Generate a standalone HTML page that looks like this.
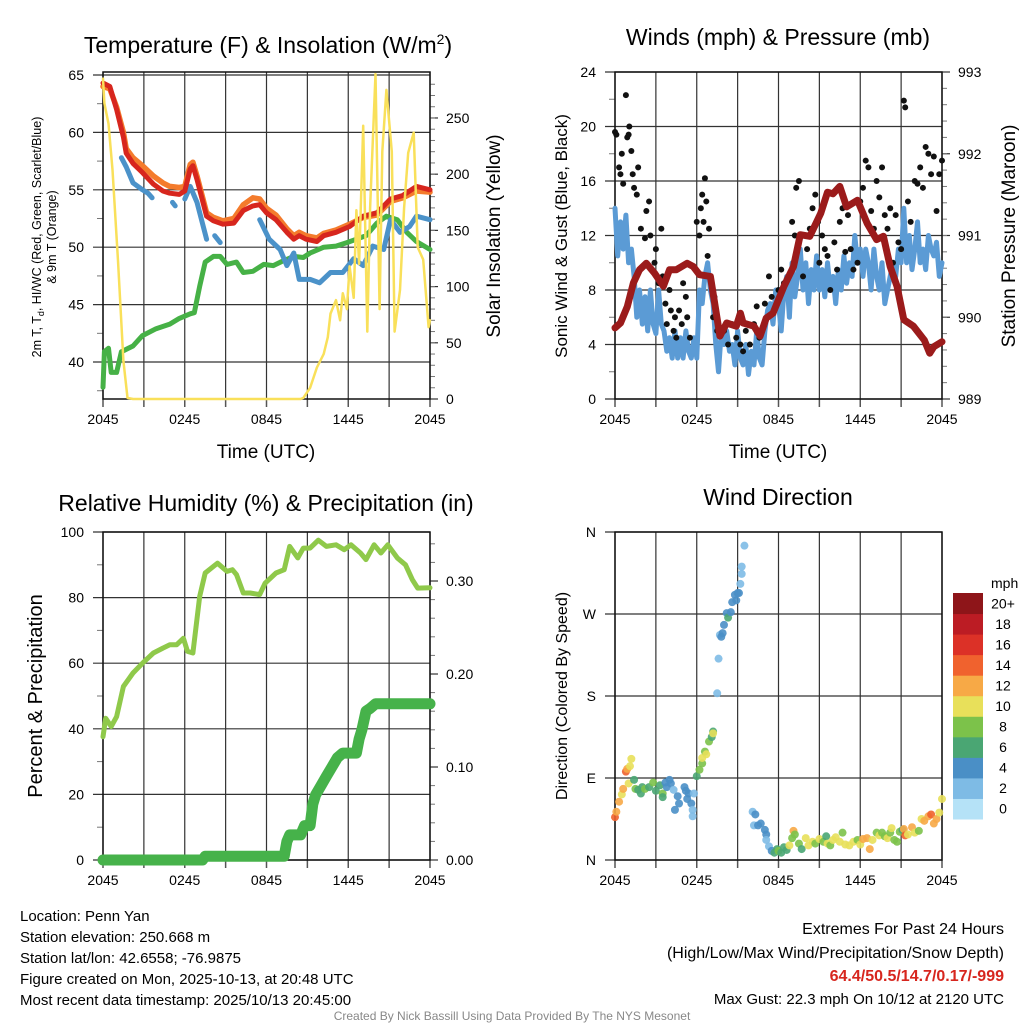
<!DOCTYPE html>
<html><head><meta charset="utf-8"><style>
body{margin:0;background:#fff;width:1024px;height:1024px;overflow:hidden;font-family:"Liberation Sans",sans-serif}
svg{display:block}
</style></head><body>
<svg id="chart" width="1024" height="1024" viewBox="0 0 1024 1024" xmlns="http://www.w3.org/2000/svg" font-family="Liberation Sans, sans-serif">
<g id="layer"></g>
<text x="268" y="53" font-size="23" text-anchor="middle">Temperature (F) &amp; Insolation (W/m<tspan font-size="14" dy="-9">2</tspan><tspan dy="9">)</tspan></text>
<text x="778" y="45" font-size="23" text-anchor="middle">Winds (mph) &amp; Pressure (mb)</text>
<text x="266" y="511" font-size="23" text-anchor="middle">Relative Humidity (%) &amp; Precipitation (in)</text>
<text x="778" y="505" font-size="23" text-anchor="middle">Wind Direction</text>
<text x="266" y="458" font-size="19" text-anchor="middle">Time (UTC)</text>
<text x="778" y="458" font-size="19" text-anchor="middle">Time (UTC)</text>
<text transform="translate(41,237) rotate(-90)" font-size="12.5" text-anchor="middle">2m T, T<tspan font-size="9" dy="3">d</tspan><tspan dy="-3">, HI/WC (Red, Green, Scarlet/Blue)</tspan></text>
<text transform="translate(56,237) rotate(-90)" font-size="12.5" text-anchor="middle">&amp; 9m T (Orange)</text>
<text transform="translate(500,236) rotate(-90)" font-size="19" text-anchor="middle">Solar Insolation (Yellow)</text>
<text transform="translate(567,236) rotate(-90)" font-size="17" text-anchor="middle">Sonic Wind &amp; Gust (Blue, Black)</text>
<text transform="translate(1015,236) rotate(-90)" font-size="19" text-anchor="middle">Station Pressure (Maroon)</text>
<text transform="translate(42,696) rotate(-90)" font-size="20" text-anchor="middle">Percent &amp; Precipitation</text>
<text transform="translate(567,696) rotate(-90)" font-size="16" text-anchor="middle">Direction (Colored By Speed)</text>
<g font-size="15">
<text x="20" y="921">Location: Penn Yan</text>
<text x="20" y="942">Station elevation: 250.668 m</text>
<text x="20" y="963">Station lat/lon: 42.6558; -76.9875</text>
<text x="20" y="984">Figure created on Mon, 2025-10-13, at 20:48 UTC</text>
<text x="20" y="1005">Most recent data timestamp: 2025/10/13 20:45:00</text>
</g>
<g font-size="16" text-anchor="end">
<text x="1004" y="934">Extremes For Past 24 Hours</text>
<text x="1004" y="958">(High/Low/Max Wind/Precipitation/Snow Depth)</text>
<text x="1004" y="981" fill="#d7261e" font-weight="bold">64.4/50.5/14.7/0.17/-999</text>
<text x="1004" y="1004" font-size="15">Max Gust: 22.3 mph On 10/12 at 2120 UTC</text>
</g>
<text x="512" y="1020" font-size="12" fill="#888" text-anchor="middle">Created By Nick Bassill Using Data Provided By The NYS Mesonet</text>
</svg>
<script>
// ---- data ----
const xTickLabels=["2045","0245","0845","1445","2045"];
const xTickHours=[0,6,12,18,24];
const tempLeftTicks=[40,45,50,55,60,65];
const insolTicks=[0,50,100,150,200,250];
const windTicks=[0,4,8,12,16,20,24];
const presTicks=[989,990,991,992,993];
const rhTicks=[0,20,40,60,80,100];
const precipTicks=[0,0.1,0.2,0.3];
const precipTickLabels=["0.00","0.10","0.20","0.30"];
const dirTicks=[0,90,180,270,360];
const dirTickLabels=["N","E","S","W","N"];
const speedBins=[0,2,4,6,8,10,12,14,16,18,20];
const speedLabels=["0","2","4","6","8","10","12","14","16","18","20+"];
const speedColors=["#b5e2f7","#7ebbe5","#4a8fc6","#4aa673","#7cc24a","#e8e05a","#f7a946","#f0622e","#dc3127","#bc1c24","#8e1519"];

const tempHours=[0,0.5,1,1.5,1.7,2.2,2.9,3.7,4.4,4.9,5.6,6,6.4,6.6,6.9,7.6,8.1,8.8,9.6,10.3,11,11.5,12,12.7,13.5,14,14.4,14.9,15.7,16.2,17.1,18.1,19.1,20.1,21.1,22,23,24];
const tempVals=[64.3,64,62,59.6,58.2,57.3,56.5,55.5,54.9,54.7,54.6,54.9,56.8,57.1,55.9,52.7,52.3,52,52.1,53.2,53.6,53.7,53,52.4,51.3,50.7,51,50.7,50.5,51,51.3,51.8,52.7,53,54.2,54.5,55.3,55];
const temp9Vals=[64,63.8,62.2,60,58.6,57.8,57.1,56.2,55.6,55.3,55.2,55.3,57.2,57.4,56.2,53,52.6,52.3,52.5,53.7,54.3,54.2,53.4,52.8,51.6,51,51.3,51,50.8,51.2,51.5,52,52.6,52.8,54,54.3,54.9,54.8];
const hiHours=[1.35,1.7,2.2,2.9,3.3,3.6,3.8,5.0,5.1,5.3,5.6,6.0,6.4,6.9,7.6,7.7,8.2,8.6,9,11.5,12.2,13,13.5,14,14.4,15.2,15.9,16.7,17.6,18.4,19.1,19.8,20.6,21.1,21.8,22.5,23,24];
const hiVals=[57.8,57,55.6,55,54.7,54.3,null,null,53.9,53.6,null,54.2,55.3,53.9,50.7,null,51,50.4,null,52.4,50.7,49.8,48.4,49.5,47.2,47.2,46.9,47.8,47.8,49,48.4,50.1,49.8,52.4,51.3,51.8,52.7,52.4];
const dewHours=[0,0.1,0.4,0.6,1,1.35,2.2,2.9,3.9,4.9,5.6,6.4,6.7,7.1,7.5,8.1,8.6,9.1,9.8,10.3,11,11.8,12.5,13.2,14,14.7,15.2,16.2,17.1,17.9,18.6,19.3,20.1,20.8,21.6,22.3,23,24];
const dewVals=[37.8,40.9,41.2,39.1,39.1,40.9,41.4,42.3,42.9,43.3,43.8,44.2,44.3,46.6,48.7,49.2,49.2,48.5,48.7,47.8,47.9,48.5,48.4,48.8,49.2,49.1,49.5,50,50.1,50.4,50.7,51,52.1,52.7,52.4,51.3,50.5,49.8];
const solHours=[0,0.1,0.4,0.7,1.1,1.5,1.8,2.2,14.5,14.7,15.2,15.7,16.2,16.5,16.7,17.1,17.4,17.6,17.9,18.1,18.4,18.6,18.8,19.1,19.4,19.6,20,20.3,20.5,20.8,21.2,21.4,21.8,22.1,22.4,22.8,23.1,23.5,23.9,24];
const solVals=[285,263,245,204,123,34,1,0,0,1,10,28,40,55,76,88,70,94,80,118,90,168,120,243,60,170,289,80,220,275,220,60,97,170,219,237,135,124,64,70];

const windHours=[0,0.2,0.4,0.6,0.8,1,1.2,1.4,1.6,1.8,2,2.2,2.4,2.6,2.8,3,3.2,3.4,3.6,3.8,4,4.2,4.4,4.6,4.8,5,5.2,5.4,5.6,5.8,6,6.2,6.4,6.6,6.8,7,7.2,7.4,7.6,7.8,8,8.2,8.4,8.6,8.8,9,9.2,9.4,9.6,9.8,10,10.2,10.4,10.6,10.8,11,11.2,11.4,11.6,11.8,12,12.2,12.4,12.6,12.8,13,13.2,13.4,13.6,13.8,14,14.2,14.4,14.6,14.8,15,15.2,15.4,15.6,15.8,16,16.2,16.4,16.6,16.8,17,17.2,17.4,17.6,17.8,18,18.2,18.4,18.6,18.8,19,19.2,19.4,19.6,19.8,20,20.2,20.4,20.6,20.8,21,21.2,21.4,21.6,21.8,22,22.2,22.4,22.6,22.8,23,23.2,23.4,23.6,23.8,24];
const windVals=[14,10.5,13,11,13.5,10,11,9,6,8,5.5,7.5,5,8,5.5,4.8,8,5.5,5,3.5,4.5,3,5,3,4.5,3,5,3.5,3,4.5,3,8,7,9,10,8,7,4,2,5,4,5,3.5,4,2.5,5,3,2.5,4,1.8,3.5,2.5,5,3,2.5,5,6.5,7,5.5,8,7,5,8,9,6,10,7.5,9,11,8,10,7,9.5,8,10.5,8,9.5,7.5,10,8,9,7,9.5,8,10.5,8.5,10,9,12,10,11,9,11,10,8,11,9,8,10,7,8,9,10,9,11,10,14,10,12,9.5,11,13,10,11,9.5,12,11,10.5,11.5,9,10];
const gustHours=[0,0.1,0.3,0.4,0.5,0.6,0.8,0.9,1,1.05,1.2,1.3,1.4,1.6,1.7,1.9,2.2,2.3,2.5,2.6,2.7,2.9,3,3.2,3.4,3.5,3.7,3.8,4,4.1,4.3,4.4,4.5,4.7,4.9,5,5.2,5.3,5.5,6,6.2,6.3,6.4,6.5,6.6,6.7,6.8,6.9,7,7.2,7.3,7.5,8,8.3,8.6,8.9,9.2,9.4,9.6,9.9,10.2,10.4,10.6,11,11.3,11.5,12,12.2,12.4,13,13.2,13.3,13.5,13.8,14.1,14.3,14.5,14.7,14.9,15,15.2,15.4,15.6,15.8,16.1,16.3,16.5,16.7,16.9,17.1,17.3,17.5,17.8,18,18.2,18.4,18.6,18.8,19,19.2,19.4,19.6,19.8,20,20.2,20.4,20.6,20.8,21,21.2,21.3,21.5,21.7,22,22.2,22.4,22.6,22.8,23,23.2,23.4,23.6,23.8,24];
const gustVals=[19.6,19.4,17,16.5,18,15.8,22.3,19.2,19.4,20,18.2,16.5,15.5,15,17,12.5,11.8,13.8,14.5,12,9.5,10,11,8.5,12.5,9,7,5.5,8,6.5,5,6,4.5,6.5,5.5,8.5,7.5,6,4.5,13,12,14,15,13,16.2,14.5,10.5,12.5,9,6,7.5,5,5,4,5.5,4.5,4,3.5,5,4,5.5,6.8,4.5,7,9,7.5,8,9.5,8.5,13,12,15.5,16,9,11,12.5,14,15,13,10,12,11,10.5,8,11.5,9.5,13,14,10.8,13.5,11,9.5,10,14.5,15.5,17.5,17,13.8,12.5,16,14.8,17,13.5,12.5,14,10,13.5,11.5,11,21.9,21.4,14.5,13,16,15.8,17,15.5,18.5,18,16.5,17.8,13.8,16.5,17.5];
const presHours=[0,0.4,0.9,1.35,1.8,2.3,2.9,3.55,4,4.5,5.3,5.75,6.2,7,7.7,8.2,8.9,9.2,9.4,10.2,10.65,11.1,11.6,12.4,13.1,13.6,14.3,15.1,15.6,16,16.5,17,17.8,18.5,19.2,19.7,20.2,20.7,21.2,21.9,22.7,23.1,23.4,24];
const presVals=[989.87,989.93,990.13,990.42,990.58,990.66,990.54,990.38,990.58,990.58,990.66,990.62,990.52,990.5,989.77,989.93,989.89,990.05,989.93,989.89,989.77,989.99,990.05,990.38,990.62,991.01,990.99,991.27,991.53,991.51,991.6,991.35,991.43,991.15,990.95,990.99,990.62,990.38,989.97,989.89,989.72,989.56,989.64,989.7];

const rhHours=[0,0.2,0.6,1,1.5,2.2,2.9,3.7,4.4,4.9,5.4,5.9,6.2,6.6,7.1,7.5,8.1,8.4,9.1,9.5,9.8,10.3,10.8,11.5,11.9,12.7,13.3,13.7,14.3,14.7,15.2,15.8,16.4,17.1,17.7,18.2,18.9,19.3,19.9,20.4,20.9,21.6,22.2,22.7,23.1,24];
const rhVals=[37.6,43.2,40.7,43.7,52.9,57,60,63.1,64.6,65.6,65.6,67.6,63.6,63.1,80.4,87.5,89.5,90.5,88,88.5,87,81.4,81.4,80.9,84.4,87.5,88.5,95.6,92.1,95.1,95.1,97.5,95.6,96.1,94.6,96.1,93.6,91.6,96.1,93.6,96.1,92.1,90,85.5,82.9,83];
const precipHours=[0,7.3,7.5,13.3,13.5,13.7,14.5,14.8,15.2,15.4,15.6,16,16.4,16.8,17.2,17.6,18.6,18.8,19,19.3,19.6,20,24];
const precipVals=[0,0,0.004,0.004,0.02,0.027,0.027,0.037,0.037,0.06,0.07,0.08,0.09,0.1,0.11,0.115,0.115,0.13,0.14,0.16,0.163,0.168,0.168];

const dirHours=[0,0.1,0.3,0.5,0.6,0.8,0.9,1,1.1,1.2,1.4,1.5,1.7,1.9,2,2.2,2.5,2.8,3,3.3,3.5,3.5,3.7,3.8,4,4.1,4.3,4.4,4.6,4.7,5.1,5.2,5.3,5.4,5.6,5.7,5.7,5.8,6,6.2,6.4,6.4,6.6,6.7,6.9,7.1,7.2,7.2,7.5,7.6,7.7,7.8,7.9,8,8.2,8.3,8.5,8.6,8.8,8.9,9,9.1,9.2,9.3,9.3,9.5,10.1,10.3,10.2,10.5,10.7,11,11.1,11.1,11.3,11.5,11.7,11.9,12,12.2,12.4,12.6,12.8,13,13.1,13.2,13.5,13.7,14,14.2,14.5,14.7,15,15.3,15.5,15.6,15.8,16,16.2,16.5,16.7,16.9,17.2,17.5,17.8,18,18.2,18.5,18.7,18.9,19.2,19.4,19.6,19.8,20,20.2,20.3,20.5,20.7,20.9,21.1,21.2,21.3,21.5,21.8,22,22.3,22.5,22.7,23,23.2,23.4,23.6,23.8,24];
const dirVals=[47,53,64,72,78,97,100,84,103,111,88,78,77,73,80,78,80,85,76,82,73,69,85,80,88,84,77,55,70,62,80,76,67,73,62,55,48,73,92,99,106,112,119,116,130,135,141,139,183,221,247,245,249,258,271,266,272,283,291,285,293,293,303,314,322,345,53,50,38,38,40,33,28,22,15,10,8,12,10,8,14,11,16,24,32,28,18,12,24,16,20,18,23,20,26,18,16,22,25,20,30,17,16,20,22,17,23,24,12,22,30,27,30,26,24,30,35,22,20,31,33,34,27,28,36,30,32,45,43,48,50,40,45,52,67];
const dirSpeeds=[14,12,12,11,12,14,12,10,10,10,6,8,7,6,7,8,6,8,7,6,8,6,5,4,4,4,3,4,4,4,4,4,4,4,4,3,2,3,6,8,8,10,8,10,8,6,7,10,2,2,2,4,4,4,4,6,4,4,4,4,4,4,2,2,2,2,2,4,2,4,4,4,4,2,2,4,6,6,8,6,6,7,10,8,12,8,8,6,10,10,10,9,10,8,6,10,8,10,10,10,8,10,10,11,8,10,12,12,12,10,8,10,8,8,10,8,10,8,8,8,7,12,14,10,12,10,9,10,12,12,14,12,12,10,10];

// ---- drawing ----
const NS="http://www.w3.org/2000/svg";
const layer=document.getElementById('layer');
function mk(tag,attrs,parent){const e=document.createElementNS(NS,tag);for(const k in attrs)e.setAttribute(k,attrs[k]);(parent||layer).appendChild(e);return e;}
function lin(d0,d1,r0,r1){return v=>r0+(v-d0)/(d1-d0)*(r1-r0);}

const panels={
 temp:{x0:103,x1:430,y0:72,y1:399},
 wind:{x0:615,x1:942,y0:72,y1:399},
 rh:{x0:103,x1:430,y0:532,y1:860},
 dir:{x0:615,x1:942,y0:532,y1:860}
};
function frame(p,name,leftTicks,leftLab,ly,leftMinor,rightTicks,rightLab,ry,rightMinor,showX){
  const g=mk('g',{});
  
  
  const x=lin(0,24,p.x0,p.x1);
  for(let h=0;h<=24;h+=3){mk('line',{x1:x(h),x2:x(h),y1:p.y0,y2:p.y1,stroke:'#333','stroke-width':1.2},g);
    mk('line',{x1:x(h),x2:x(h),y1:p.y1,y2:p.y1+8,stroke:'#555','stroke-width':1.5},g);}
  leftTicks.forEach((v,i)=>{const yy=ly(v);
    mk('line',{x1:p.x0-10,x2:p.x1,y1:yy,y2:yy,stroke:'#333','stroke-width':1.2},g);
    const t=mk('text',{x:p.x0-19,y:yy+5,'font-size':14,'text-anchor':'end'},g);t.textContent=leftLab[i];});
  leftMinor.forEach(v=>{const yy=ly(v);mk('line',{x1:p.x0-6,x2:p.x0,y1:yy,y2:yy,stroke:'#777','stroke-width':1},g);});
  if(rightTicks){rightTicks.forEach((v,i)=>{const yy=ry(v);
    mk('line',{x1:p.x1,x2:p.x1+8,y1:yy,y2:yy,stroke:'#333','stroke-width':1.2},g);
    const t=mk('text',{x:p.x1+16,y:yy+5,'font-size':14},g);t.textContent=rightLab[i];});
    rightMinor.forEach(v=>{const yy=ry(v);mk('line',{x1:p.x1,x2:p.x1+5,y1:yy,y2:yy,stroke:'#777','stroke-width':1},g);});}
  mk('rect',{x:p.x0,y:p.y0,width:p.x1-p.x0,height:p.y1-p.y0,fill:'none',stroke:'#111','stroke-width':1.5},g);
  xTickHours.forEach((h,i)=>{const t=mk('text',{x:x(h),y:p.y1+25,'font-size':14,'text-anchor':'middle'},g);t.textContent=xTickLabels[i];});
  return x;
}
function path(name,hs,vs,x,y,color,w){
  let d='',pen=false;
  for(let i=0;i<hs.length;i++){if(vs[i]===null){pen=false;continue;}
    d+=(pen?'L':'M')+x(hs[i]).toFixed(1)+','+y(vs[i]).toFixed(1);pen=true;}
  const e=mk('path',{d:d,fill:'none',stroke:color,'stroke-width':w,'stroke-linejoin':'round','stroke-linecap':'round'});
  
  
  return e;
}
function range(a,b,s){const r=[];for(let v=a;v<=b+1e-9;v+=s)r.push(+v.toFixed(4));return r;}

// Panel 1
{const p=panels.temp;const ly=lin(36.78,65.26,p.y1,p.y0);const ry=lin(0,290.9,p.y1,p.y0);
 const x=frame(p,'temp',tempLeftTicks,tempLeftTicks.map(String),ly,range(37.5,62.5,5),insolTicks,insolTicks.map(String),ry,range(10,280,10),true);
 path('dewpoint-line',dewHours,dewVals,x,ly,'#46b146',5);
 path('heat-index-line',hiHours,hiVals,x,ly,'#4b92c9',5);
 path('temp-9m-line',tempHours,temp9Vals,x,ly,'#f47b2c',5.5);
 path('temp-2m-line',tempHours,tempVals,x,ly,'#d7261e',5);
 path('insolation-line',solHours,solVals,x,ry,'#f9e05a',2.5);}
// Panel 2
{const p=panels.wind;const ly=lin(0,24,p.y1,p.y0);const ry=lin(989,993,p.y1,p.y0);
 const x=frame(p,'wind',windTicks,windTicks.map(String),ly,range(2,22,4),presTicks,presTicks.map(String),ry,range(989.2,992.8,0.2),true);
 path('wind-speed-line',windHours,windVals,x,ly,'#5b9bd5',5);
 gustHours.forEach((h,i)=>{const c=mk('circle',{cx:x(h),cy:ly(gustVals[i]),r:3,fill:'#111'});
   
   });
 path('pressure-line',presHours,presVals,x,ry,'#9b1b1b',7);}
// Panel 3
{const p=panels.rh;const ly=lin(0,100,p.y1,p.y0);const ry=lin(0,0.3527,p.y1,p.y0);
 const x=frame(p,'rh',rhTicks,rhTicks.map(String),ly,range(10,90,20),precipTicks,precipTickLabels,ry,range(0.02,0.34,0.02).filter(v=>Math.abs(v*10-Math.round(v*10))>1e-6),true);
 path('rh-line',rhHours,rhVals,x,ly,'#8fc94a',5);
 path('precip-line',precipHours,precipVals,x,ry,'#46b24a',11);}
// Panel 4
{const p=panels.dir;const ly=lin(0,360,p.y1,p.y0);
 const x=frame(p,'direction',dirTicks,dirTickLabels,ly,[],null,null,null,null,true);
 function col(s){let k=0;for(let i=0;i<speedBins.length;i++)if(s>=speedBins[i])k=i;return speedColors[k];}
 dirHours.forEach((h,i)=>{const c=mk('circle',{cx:x(h),cy:ly(dirVals[i]),r:4,fill:col(dirSpeeds[i]),opacity:0.9});
   
   });
 const lg=mk('g',{});
 
 
 const cb0=593,cbh=(819-593)/speedColors.length;
 const t=mk('text',{x:991,y:588,'font-size':14},lg);t.textContent='mph';
 speedColors.forEach((c,i)=>{const yy=819-(i+1)*cbh;
   mk('rect',{x:953,y:yy,width:30,height:cbh+0.5,fill:c},lg);
   const tt=mk('text',{x:1003,y:yy+cbh/2+5,'font-size':14,'text-anchor':'middle'},lg);tt.textContent=speedLabels[i];});}
</script>
</body></html>
